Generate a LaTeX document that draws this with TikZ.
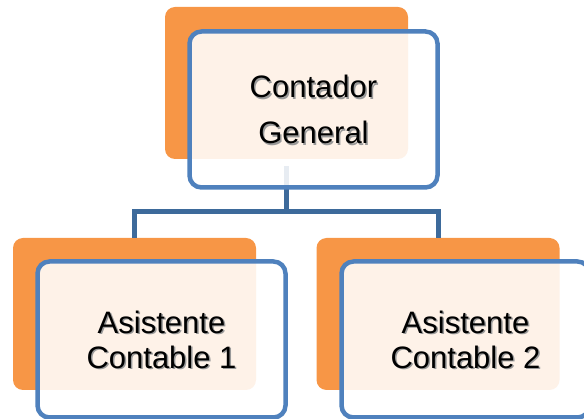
\documentclass[tikz,border=0pt]{standalone}
\usepackage{fontspec}
\setmainfont{Liberation Sans}
\usepackage{tikz}
\usetikzlibrary{calc}

\definecolor{backorange}{HTML}{F79646}
\definecolor{frameblue}{HTML}{4F81BD}
\definecolor{linkblue}{HTML}{3D6A9B}

\begin{document}
\begin{tikzpicture}[x=1pt,y=-1pt,
    backbox/.style={rectangle,rounded corners=10pt,fill=backorange,minimum width=243pt,minimum height=152pt,inner sep=0pt},
    framebox/.style={rectangle,rounded corners=12pt,draw=frameblue,line width=4.5pt,fill=white,fill opacity=0.88,minimum width=248pt,minimum height=156pt,inner sep=0pt},
    link/.style={draw=linkblue,line width=5pt},
    boxtext/.style={align=center,font=\fontsize{31}{35}\selectfont},
    boxshadow/.style={boxtext,text=black!40}]
        \useasboundingbox (0,0) rectangle (584,419);
        \clip (0,0) rectangle (584,419);
        % Orange back boxes
        \node[backbox] (topback) at (286.5,83) {};
        \node[backbox] (leftback) at (134.5,314) {};
        \node[backbox] (rightback) at (438,314) {};
        % Connectors
        \coordinate (bus) at (286.5,212);
        \draw[link] ($(topback.south)+(0,7)$) -- (bus);
        \draw[link] (leftback.north) |- (bus) -| (rightback.north);
        % Blue framed boxes
        \node[framebox] (top) at (313.5,109.5) {};
        \node[framebox] (left) at (161.5,339.5) {};
        \node[framebox] (right) at (465.5,339.5) {};
        % Labels with shadow
        \foreach \nm/\txt in {top/{Contador\\[11pt]General}, left/{Asistente\\Contable 1}, right/{Asistente\\Contable 2}} {
            \node[boxshadow] at ($(\nm)+(1.5,1.5)$) {\txt};
            \node[boxtext] (\nm label) at (\nm) {\txt};
        }
    \end{tikzpicture}
\end{document}
